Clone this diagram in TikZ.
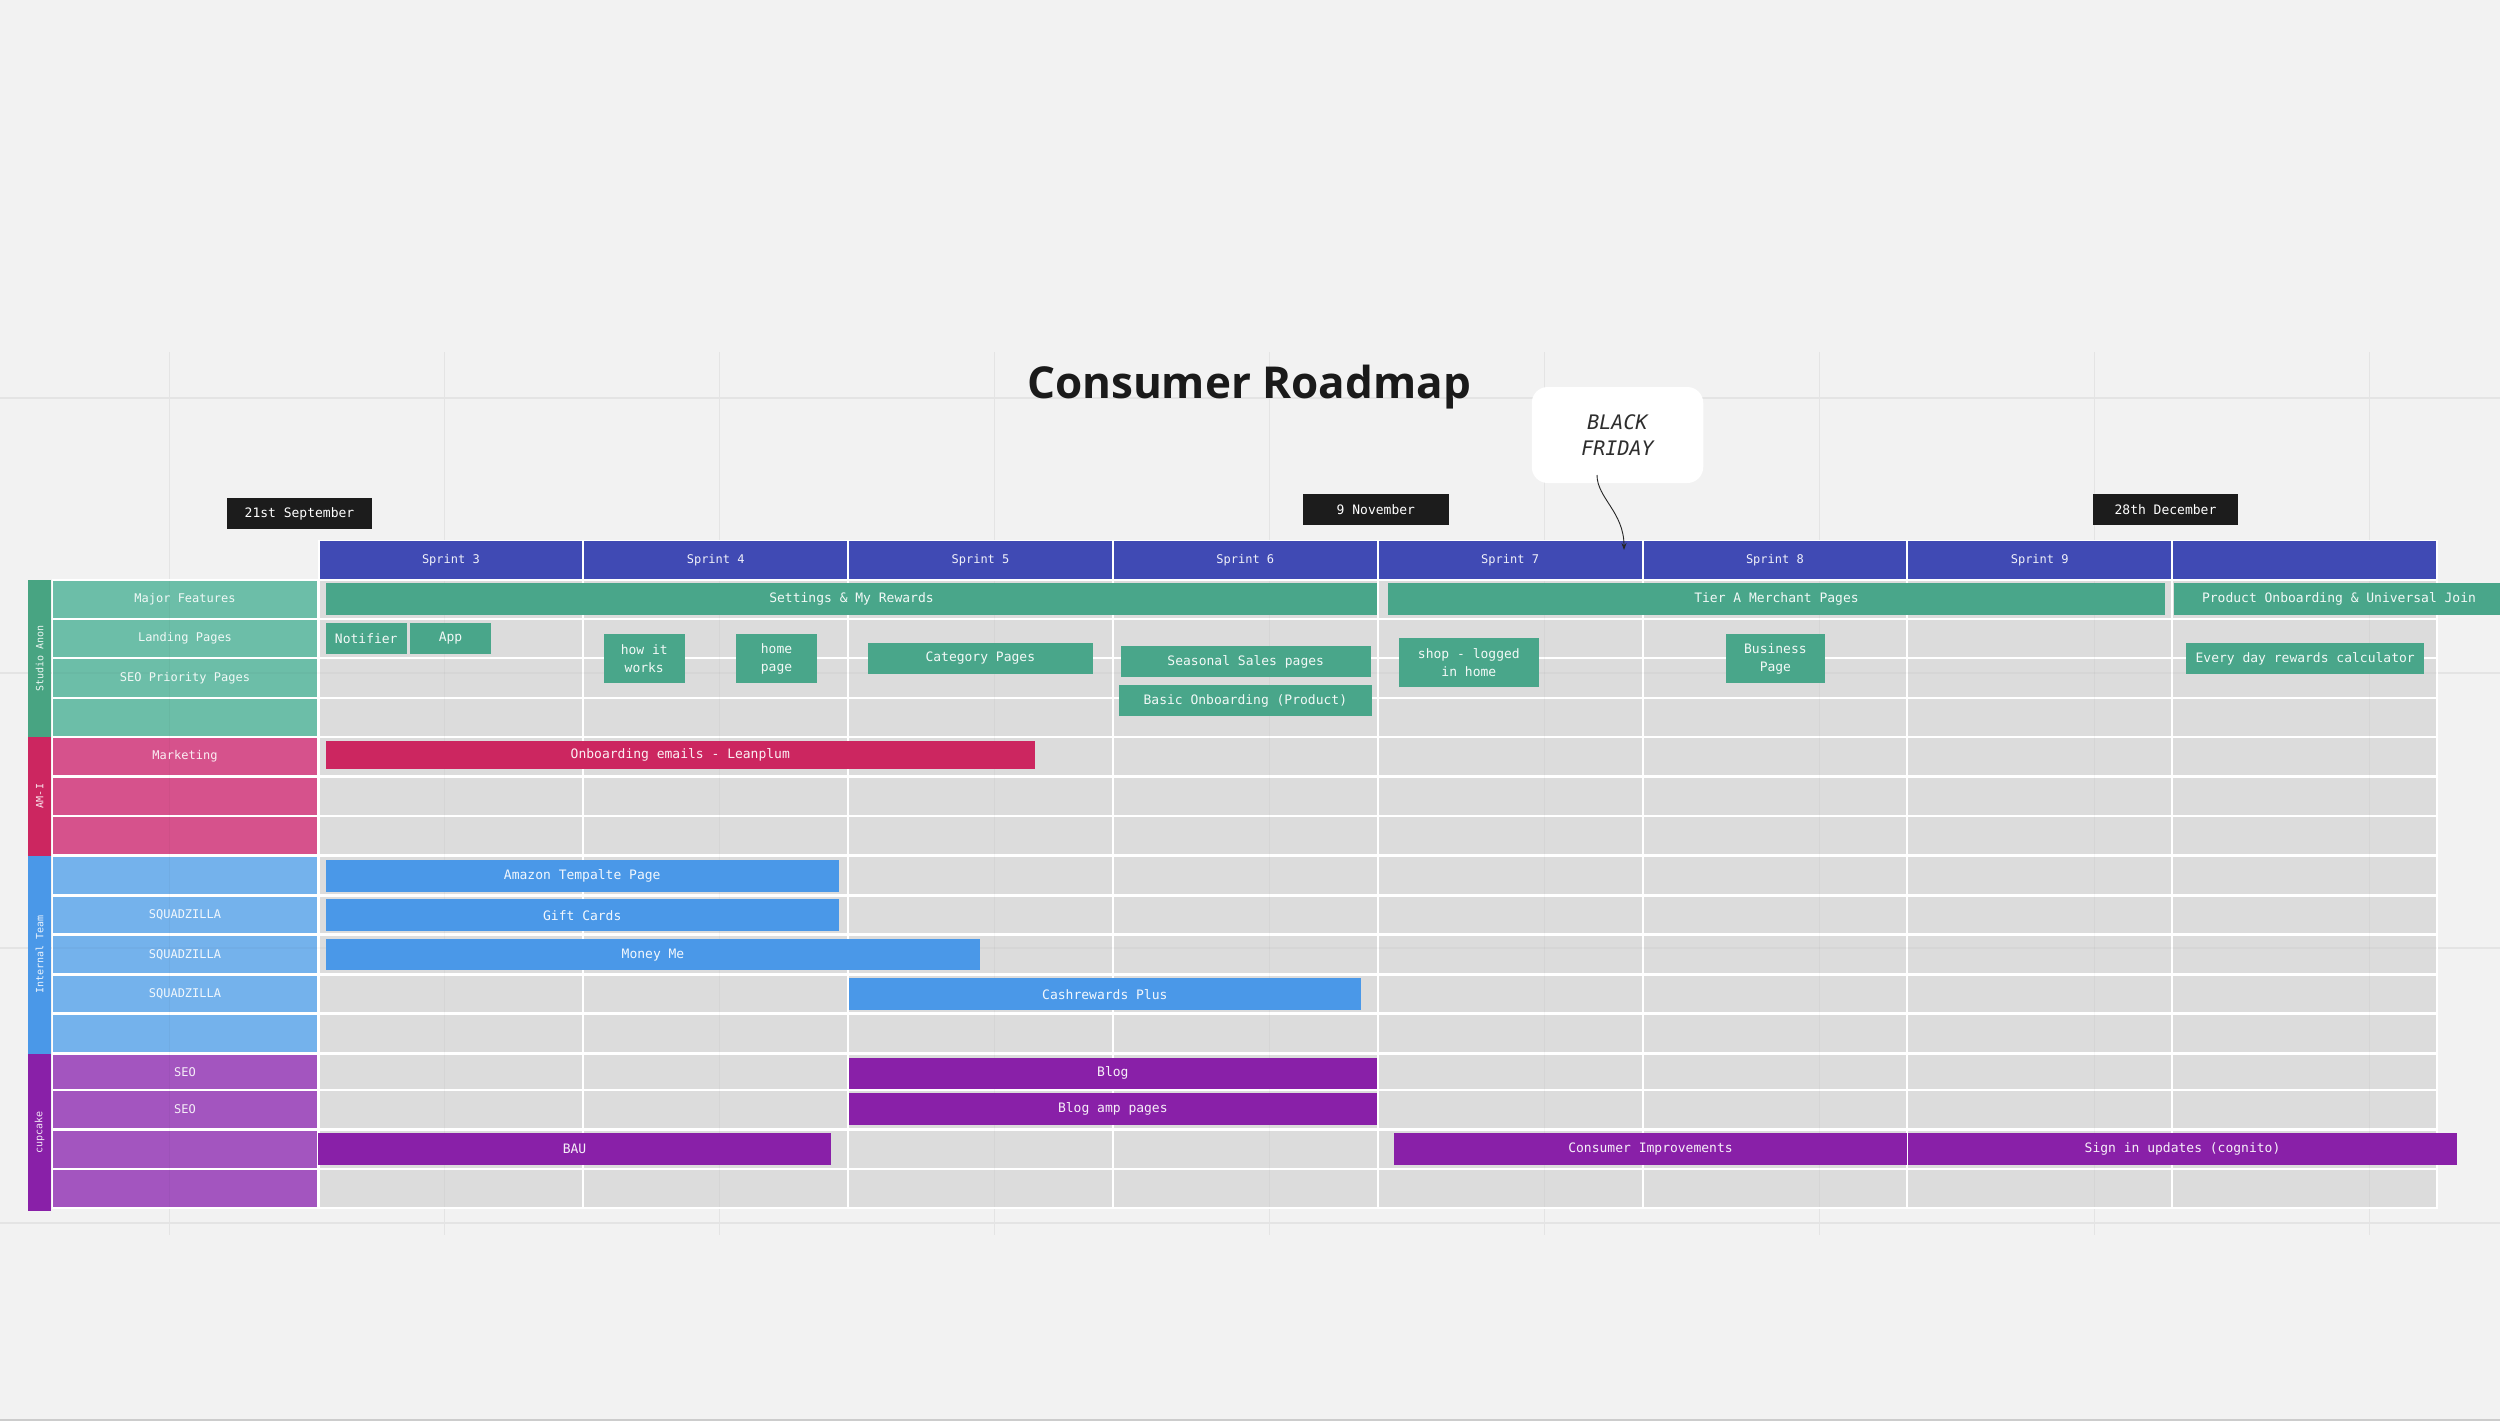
\documentclass[tikz,border=0pt]{standalone}
\usepackage{fontspec}
\setmonofont{DejaVu Sans Mono}
\newfontfamily\titlefont{Open Sans}
\usetikzlibrary{arrows.meta}
\definecolor{bgc}{RGB}{242,242,242}
\definecolor{canvasline}{RGB}{228,228,228}
\definecolor{cellgrey}{RGB}{220,220,220}
\definecolor{sprintblue}{RGB}{64,74,180}
\definecolor{tealbar}{RGB}{73,166,138}
\definecolor{teallab}{RGB}{108,190,168}
\definecolor{tealgrp}{RGB}{72,164,130}
\definecolor{pinkbar}{RGB}{204,38,96}
\definecolor{pinklab}{RGB}{214,82,140}
\definecolor{bluebar}{RGB}{74,152,232}
\definecolor{bluelab}{RGB}{116,178,236}
\definecolor{purpbar}{RGB}{137,32,168}
\definecolor{purplab}{RGB}{163,85,191}
\definecolor{datebox}{RGB}{28,28,28}
\definecolor{titlec}{RGB}{26,26,26}
\newcommand\mybox[7]{%
  \node[#6, minimum width={#4-#2}, minimum height={#5-#3}] (#1) at ({(#2+#4)/2},{(#3+#5)/2}) {#7};}
\begin{document}
\begin{tikzpicture}[x=1pt,y=-1pt,
  barbase/.style={inner sep=0pt, outer sep=0pt, align=center, text=white, text opacity=0.93,
    font=\ttfamily\fontsize{13}{18}\selectfont},
  tealb/.style={barbase, fill=tealbar},
  pinkb/.style={barbase, fill=pinkbar},
  blueb/.style={barbase, fill=bluebar},
  purpb/.style={barbase, fill=purpbar},
  rowlab/.style={inner sep=0pt, text=white, text opacity=0.9, font=\ttfamily\fontsize{12}{14}\selectfont},
  grplab/.style={inner sep=0pt, rotate=90, text=white, text opacity=0.9, font=\ttfamily\fontsize{10}{12}\selectfont},
  sprintlab/.style={inner sep=0pt, text=white, text opacity=0.92, font=\ttfamily\fontsize{12}{14}\selectfont},
  datenode/.style={inner sep=0pt, outer sep=0pt, fill=datebox, text=white, font=\ttfamily\fontsize{13}{15}\selectfont},
  cline/.style={draw=canvasline, line width=1.5pt}
]
% canvas
\fill[bgc] (0,0) rectangle (2500,1421);
\useasboundingbox (0,0) rectangle (2500,1421);
\fill[black!20] (0,1418.5) rectangle (2500,1421);
% canvas grid
\foreach \gx in {169.5,444.5,719.5,994.5,1269.5,1544.5,1819.5,2094.5,2369.5} {
  \draw[cline] (\gx,352) -- (\gx,1235);
}
\foreach \gy in {398,673,948,1223} {
  \draw[cline] (0,\gy) -- (2500,\gy);
}
% white backing of table
\fill[white] (51.5,579) rectangle (2437.9,1209);
\fill[white] (317.5,540) rectangle (2437.9,579);
% sprint header
\foreach \j/\s in {0/Sprint 3,1/Sprint 4,2/Sprint 5,3/Sprint 6,4/Sprint 7,5/Sprint 8,6/Sprint 9,7/{}} {
  \fill[sprintblue] ({318.5+\j*264.8+1},541) rectangle ({318.5+(\j+1)*264.8-1},579);
  \node[sprintlab] (sp\j) at ({318.5+(\j+0.5)*264.8},560) {\s};
}
% grey cells
\foreach \t/\b in {581/618,620/657,659/697,699/736,738/775,778/815,817/854,857/894,897/933,936/973,976/1012,1015/1052,1055/1089,1091/1128,1131/1168,1170/1207} {
  \foreach \j in {0,...,7} {
    \fill[cellgrey] ({318.5+\j*264.8+1},\t) rectangle ({318.5+(\j+1)*264.8-1},\b);
  }
}
% label column
\foreach \t/\b in {581/618,620/657,659/697,699/736} {\fill[teallab] (53.3,\t) rectangle (316.7,\b);}
\foreach \t/\b in {738/775,778/815,817/854} {\fill[pinklab] (53.3,\t) rectangle (316.7,\b);}
\foreach \t/\b in {857/894,897/933,936/973,976/1012,1015/1052} {\fill[bluelab] (53.3,\t) rectangle (316.7,\b);}
\foreach \t/\b in {1055/1089,1091/1128,1131/1168,1170/1207} {\fill[purplab] (53.3,\t) rectangle (316.7,\b);}
% faint canvas lines seen through the table
\foreach \gx in {169.5,444.5,719.5,994.5,1269.5,1544.5,1819.5,2094.5,2369.5} {
  \draw[black, opacity=0.03, line width=1.5pt] (\gx,581) -- (\gx,1207);
}
\foreach \gy in {673,948} {
  \draw[black, opacity=0.025, line width=1.5pt] (53,\gy) -- (2437,\gy);
}
% group bars
\fill[tealgrp] (28.3,580) rectangle (51,737);
\fill[pinkbar] (28.3,737) rectangle (51,855.5);
\fill[bluebar] (28.3,855.5) rectangle (51,1053.5);
\fill[purpbar] (28.3,1053.5) rectangle (51,1211);
\node[grplab] (gStudio) at (39.7,658.5) {Studio Anon};
\node[grplab] (gAMI) at (39.7,796) {AM-I};
\node[grplab] (gInternal) at (39.7,954.5) {Internal Team};
\node[grplab] (gCupcake) at (39.7,1132.5) {cupcake};
% row labels
\node[rowlab] (lab1) at (185,599.5) {Major Features};
\node[rowlab] (lab2) at (185,638.5) {Landing Pages};
\node[rowlab] (lab3) at (185,678) {SEO Priority Pages};
\node[rowlab] (lab5) at (185,756.5) {Marketing};
\node[rowlab] (lab9) at (185,915) {SQUADZILLA};
\node[rowlab] (lab10) at (185,954.5) {SQUADZILLA};
\node[rowlab] (lab11) at (185,994) {SQUADZILLA};
\node[rowlab] (lab13) at (185,1072) {SEO};
\node[rowlab] (lab14) at (185,1109.5) {SEO};
% task bars
\mybox{settings}{326}{583}{1377}{615}{tealb}{Settings \& My Rewards}
\mybox{tier}{1388}{583}{2165}{615}{tealb}{Tier A Merchant Pages}
\mybox{product}{2174}{583}{2504}{615}{tealb}{Product Onboarding \& Universal Join}
\mybox{notifier}{326}{623}{406.5}{654}{tealb}{Notifier}
\mybox{app}{410}{623}{491}{654}{tealb}{App}
\mybox{howit}{604}{634}{684.5}{683}{tealb}{how it\\works}
\mybox{home}{736}{634}{817}{683}{tealb}{home\\page}
\mybox{category}{868}{643}{1092.6}{674}{tealb}{Category Pages}
\mybox{seasonal}{1120.8}{646}{1370.7}{677}{tealb}{Seasonal Sales pages}
\mybox{basic}{1119}{685}{1371.7}{716}{tealb}{Basic Onboarding (Product)}
\mybox{shop}{1399}{638}{1538.7}{687}{tealb}{shop - logged\\in home}
\mybox{business}{1726}{634}{1824.8}{683}{tealb}{Business\\Page}
\mybox{everyday}{2186}{643}{2424.3}{674}{tealb}{Every day rewards calculator}
\mybox{onboarding}{326}{741}{1034.6}{769.3}{pinkb}{Onboarding emails - Leanplum}
\mybox{amazon}{326}{860}{838.5}{891.7}{blueb}{Amazon Tempalte Page}
\mybox{gift}{326}{899.3}{838.5}{931}{blueb}{Gift Cards}
\mybox{money}{326}{939}{980}{970.3}{blueb}{Money Me}
\mybox{cash}{848.7}{978.3}{1361}{1010}{blueb}{Cashrewards Plus}
\mybox{blog}{848.7}{1057.7}{1377}{1089}{purpb}{Blog}
\mybox{blogamp}{848.7}{1093.3}{1377}{1124.7}{purpb}{Blog amp pages}
\mybox{bau}{318}{1133.3}{831}{1165.3}{purpb}{BAU}
\mybox{consumer}{1394}{1133.3}{1907}{1165.3}{purpb}{Consumer Improvements}
\mybox{signin}{1908}{1133.3}{2457}{1165.3}{purpb}{Sign in updates (cognito)}
% date markers
\mybox{d1}{226.6}{498}{372.4}{529}{datenode}{21st September}
\mybox{d2}{1303}{494}{1448.7}{525}{datenode}{9 November}
\mybox{d3}{2092.5}{494}{2238.4}{525}{datenode}{28th December}
% title
\node[anchor=base, inner sep=0pt, text=titlec, font=\titlefont\bfseries\fontsize{44}{50}\selectfont] (title) at (1249,398) {Consumer Roadmap};
% black friday callout
\node[fill=white, rounded corners=16pt, inner sep=0pt, minimum width=171.5, minimum height=96, align=center,
  text=black!82, font=\ttfamily\itshape\fontsize{20}{26.5}\selectfont] (bf) at (1617.5,435) {BLACK\\FRIDAY};
\coordinate (bfstart) at (1597,475);
\coordinate (bfend) at (1624,550);
\draw[black!85, line width=0.9pt, -{Stealth[length=7pt,width=5pt]}] (bfstart) .. controls (1597,498) and (1624,512) .. (bfend);
\end{tikzpicture}
\end{document}
